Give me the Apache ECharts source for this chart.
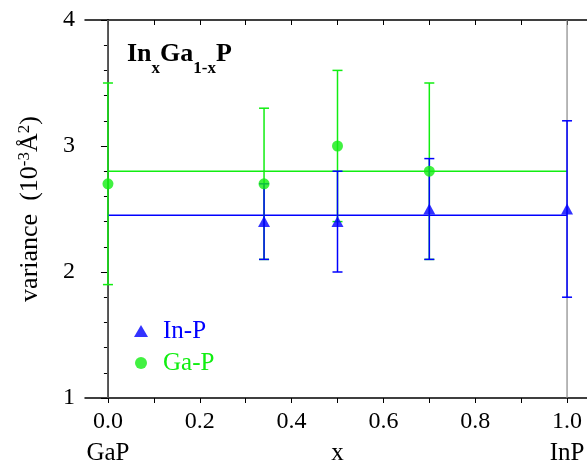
<!DOCTYPE html>
<html>
<head>
<meta charset="utf-8">
<script src="https://cdn.jsdelivr.net/npm/echarts@6/dist/echarts.min.js"></script>
<style>
html, body { margin: 0; padding: 0; background: #fff; }
#chart { width: 587px; height: 463px; }
</style>
</head>
<body>
<div id="chart"></div>
<script>
var inpX = [0.34, 0.5, 0.7, 1.0];
var inpY = [2.4, 2.4, 2.5, 2.5];
var inpLow = [2.1, 2.0, 2.1, 1.8];
var inpHigh = [2.7, 2.8, 2.9, 3.2];
var gapX = [0.0, 0.34, 0.5, 0.7];
var gapY = [2.7, 2.7, 3.0, 2.8];
var gapLow = [1.9, 2.1, 2.4, 2.1];
var gapHigh = [3.5, 3.3, 3.6, 3.5];
var inpMean = 2.45;
var gapMean = 2.8;
var xLabels = [0, 0.2, 0.4, 0.6, 0.8, 1.0];
var xTicks = [0, 0.1, 0.2, 0.3, 0.4, 0.5, 0.6, 0.7, 0.8, 0.9, 1.0];
var endLabels = ['GaP', 'InP'];

var BLUE = '#0000ff', GREEN = '#11ee11';
var FONT = 'Liberation Serif';

chart = echarts.init(document.getElementById('chart'));

function pairs(xs, ys) {
    var out = [];
    for (var i = 0; i < xs.length; i++) out.push([xs[i], ys[i]]);
    return out;
}
function bars(xs, lo, hi) {
    var out = [];
    for (var i = 0; i < xs.length; i++) out.push([xs[i], lo[i], hi[i]]);
    return out;
}
function errorBar(color) {
    return function (params, api) {
        var x = api.value(0);
        var lo = api.coord([x, api.value(1)]);
        var hi = api.coord([x, api.value(2)]);
        var w = 5;
        var style = { stroke: color, lineWidth: 1.5 };
        return {
            type: 'group',
            children: [
                { type: 'line', shape: { x1: lo[0], y1: lo[1], x2: hi[0], y2: hi[1] }, style: style },
                { type: 'line', shape: { x1: lo[0] - w, y1: lo[1], x2: lo[0] + w, y2: lo[1] }, style: style },
                { type: 'line', shape: { x1: hi[0] - w, y1: hi[1], x2: hi[0] + w, y2: hi[1] }, style: style }
            ]
        };
    };
}

var axisLine = { lineStyle: { color: '#000', width: 1.5 } };
var option = {
    animation: false,
    title: {
        left: 122, top: 30,
        text: '{b|In}{s|x}{b|Ga}{s|1-x}{b|P}',
        textStyle: {
            rich: {
                b: { fontFamily: FONT, fontWeight: 'bold', fontSize: 26, color: '#000', verticalAlign: 'bottom', lineHeight: 32 },
                s: { fontFamily: FONT, fontWeight: 'bold', fontSize: 17, color: '#000', verticalAlign: 'bottom', lineHeight: 32, padding: [0, 0, -10, 0] }
            }
        }
    },
    legend: {
        orient: 'vertical',
        left: 129, top: 313,
        itemWidth: 14, itemHeight: 12, itemGap: 6,
        textStyle: { fontFamily: FONT, fontSize: 25, lineHeight: 26, padding: [0, 0, 0, 10] },
        data: [
            { name: 'In-P', icon: 'triangle', textStyle: { color: BLUE } },
            { name: 'Ga-P', icon: 'circle', textStyle: { color: GREEN } }
        ]
    },
    grid: { left: 85, right: -3, top: 20, bottom: 65, outerBoundsMode: 'none' },
    xAxis: [
        {
            type: 'value', min: -0.05, max: 1.05,
            name: 'x', nameLocation: 'middle', nameGap: 43,
            nameTextStyle: { fontFamily: FONT, fontSize: 25, color: '#000' },
            axisLine: axisLine,
            axisTick: { customValues: xTicks, length: 5, lineStyle: { color: '#000' } },
            axisLabel: {
                customValues: xLabels, margin: 12,
                fontFamily: FONT, fontSize: 24, color: '#000',
                formatter: function (v) { return v.toFixed(1); }
            },
            splitLine: { show: false }
        },
        {
            type: 'value', min: -0.05, max: 1.05, position: 'top',
            axisLine: axisLine,
            axisTick: { customValues: xTicks, inside: true, length: 5, lineStyle: { color: '#000' } },
            axisLabel: { show: false },
            splitLine: { show: false }
        },
        {
            type: 'value', min: -0.05, max: 1.05, position: 'bottom',
            axisLine: { show: false },
            axisTick: { show: false },
            axisLabel: {
                customValues: [0, 1], margin: 43,
                fontFamily: FONT, fontSize: 25, color: '#000',
                formatter: function (v) { return v === 0 ? endLabels[0] : endLabels[1]; }
            },
            splitLine: { show: false }
        }
    ],
    yAxis: [
        {
            type: 'value', min: 1, max: 4, interval: 1,
            name: 'variance  (10{sup|-3}Å{sup|2})',
            nameLocation: 'middle', nameGap: 40, nameRotate: 90,
            nameTextStyle: {
                fontFamily: FONT, fontSize: 26, color: '#000',
                rich: { sup: { fontFamily: FONT, fontSize: 17, color: '#000', padding: [0, 0, 12, 0] } }
            },
            axisLine: axisLine,
            axisTick: { length: 6, lineStyle: { color: '#000' } },
            minorTick: { show: true, splitNumber: 5, length: 4, lineStyle: { color: '#000' } },
            axisLabel: { margin: 10, fontFamily: FONT, fontSize: 24, color: '#000' },
            splitLine: { show: false }
        },
        {
            type: 'value', min: 1, max: 4, interval: 1, position: 'right',
            axisLine: axisLine,
            axisTick: { inside: true, length: 7, lineStyle: { color: '#000' } },
            minorTick: { show: true, splitNumber: 5, length: 4, lineStyle: { color: '#000' } },
            axisLabel: { show: false },
            splitLine: { show: false }
        }
    ],
    series: [
        {
            type: 'line', data: [[0, 1], [0, 4]], symbol: 'none', silent: true,
            lineStyle: { color: '#888', width: 1.2 }, z: 1
        },
        {
            type: 'line', data: [[1, 1], [1, 4]], symbol: 'none', silent: true,
            lineStyle: { color: '#888', width: 1.2 }, z: 1
        },
        {
            type: 'line', data: [[0, gapMean], [1, gapMean]], symbol: 'none', silent: true,
            lineStyle: { color: GREEN, width: 1.5 }, z: 2
        },
        {
            type: 'line', data: [[0, inpMean], [1, inpMean]], symbol: 'none', silent: true,
            lineStyle: { color: BLUE, width: 1.5 }, z: 2
        },
        {
            type: 'custom', data: bars(gapX, gapLow, gapHigh),
            renderItem: errorBar(GREEN), z: 3
        },
        {
            type: 'custom', data: bars(inpX, inpLow, inpHigh),
            renderItem: errorBar(BLUE), z: 4
        },
        {
            name: 'Ga-P', type: 'scatter', data: pairs(gapX, gapY),
            symbol: 'circle', symbolSize: 11,
            itemStyle: { color: GREEN }, z: 5
        },
        {
            name: 'In-P', type: 'scatter', data: pairs(inpX, inpY),
            symbol: 'triangle', symbolSize: [12, 11],
            itemStyle: { color: BLUE }, z: 6
        }
    ]
};
chart.setOption(option);
</script>
</body>
</html>
